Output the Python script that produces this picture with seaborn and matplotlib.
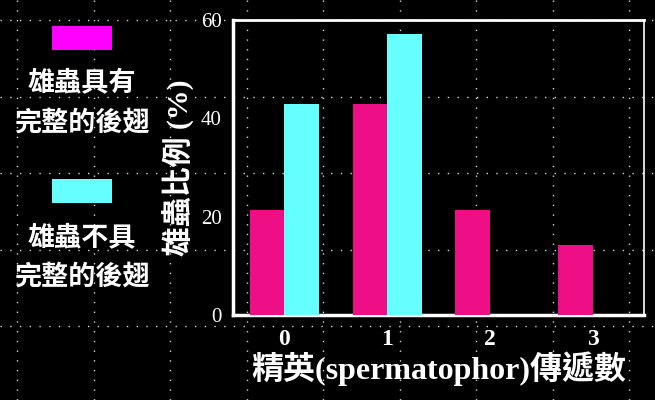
import matplotlib
matplotlib.use("Agg")
import matplotlib.pyplot as plt
from matplotlib.lines import Line2D
from matplotlib.patches import Rectangle
import seaborn as sns
import pandas as pd

# ---- data ----
categories = ["0", "1", "2", "3"]
winged = [21.4, 42.9, 21.4, 14.3]      # 雄蟲具有完整的後翅
wingless = [42.9, 57.1, 0.0, 0.0]      # 雄蟲不具完整的後翅
series_names = ["雄蟲具有\n完整的後翅", "雄蟲不具\n完整的後翅"]
y_ticks = [0, 20, 40, 60]
x_label = "精英(spermatophor)傳遞數"
y_label = "雄蟲比例 (%)"

bar_colors = ["#EE0E86", "#66FFFF"]
legend_colors = ["#FF00FF", "#66FFFF"]

df = pd.DataFrame({
    "cat": categories * 2,
    "val": winged + wingless,
    "series": [series_names[0]] * len(categories) + [series_names[1]] * len(categories),
})

sns.set_theme(style="white")
plt.rcParams["font.family"] = ["Liberation Serif", "Noto Sans CJK TC", "DejaVu Sans"]

W, H = 655, 400
fig = plt.figure(figsize=(W / 100, H / 100), dpi=100, facecolor="black")
ax = fig.add_axes([233 / W, 1 - 315 / H, (644 - 233) / W, (315 - 20) / H])
ax.set_facecolor("black")

# background dotted guide grid (slide grid)
for gx in [17 + 76.5 * k for k in range(9)]:
    fig.add_artist(Line2D([gx / W, gx / W], [0, 1], transform=fig.transFigure,
                          color="white", lw=1.0, ls=(0, (1, 6)), alpha=0.85, zorder=0))
for gy in [20 + 76.5 * k for k in range(6)]:
    fig.add_artist(Line2D([0, 1], [1 - gy / H, 1 - gy / H], transform=fig.transFigure,
                          color="white", lw=1.0, ls=(0, (1, 6)), alpha=0.85, zorder=0))
ax.patch.set_alpha(0)

sns.barplot(data=df, x="cat", y="val", hue="series", palette=bar_colors,
            width=0.67, gap=0, legend=False, ax=ax, saturation=1,
            edgecolor="none", linewidth=0, zorder=3)

ax.set_xlim(-0.5, len(categories) - 0.5)
ax.set_ylim(0, 60)
ax.set_yticks(y_ticks)
ax.set_yticklabels([str(t) for t in y_ticks], fontsize=15, color="white",
                   family=["Liberation Serif"])
ax.set_xticks(range(len(categories)))
ax.set_xticklabels(categories, fontsize=17, color="white", fontweight="bold",
                   family=["Liberation Serif"])
# category boundary ticks on x
ax.set_xticks([i + 0.5 for i in range(len(categories))], minor=True)
ax.tick_params(axis="x", which="major", length=0, pad=10)
ax.tick_params(axis="x", which="minor", length=5, width=2, color="white", direction="in")
ax.tick_params(axis="y", which="major", length=5, width=2, color="white", direction="out", pad=3)

for side in ["left", "bottom"]:
    ax.spines[side].set_color("white")
    ax.spines[side].set_linewidth(2.5)
ax.spines["top"].set_color("white")
ax.spines["top"].set_linewidth(2)
ax.spines["right"].set_color("white")
ax.spines["right"].set_linewidth(1.2)

ax.set_xlabel(x_label, fontsize=23, fontweight="bold", color="white",
              family=["Liberation Serif", "Noto Sans CJK TC"], labelpad=1)
ax.set_ylabel(y_label, fontsize=21.5, fontweight="bold", color="white",
              family=["Liberation Serif", "Noto Sans CJK TC"], labelpad=4)

# custom legend on the left
patch_rows = [(26, 50), (179, 203)]
text_rows = [(83, 123), (237, 277)]
for i in range(2):
    y0, y1 = patch_rows[i]
    fig.add_artist(Rectangle((52 / W, 1 - y1 / H), 60 / W, (y1 - y0) / H,
                             transform=fig.transFigure, facecolor=legend_colors[i],
                             edgecolor="none"))
    lines = series_names[i].split("\n")
    for line, ty in zip(lines, text_rows[i]):
        fig.text(82 / W, 1 - ty / H, line, ha="center", va="center", color="white",
                 fontsize=19.5, fontweight="bold", family=["Noto Sans CJK TC"])

fig.savefig("out.png", dpi=100, facecolor="black")
